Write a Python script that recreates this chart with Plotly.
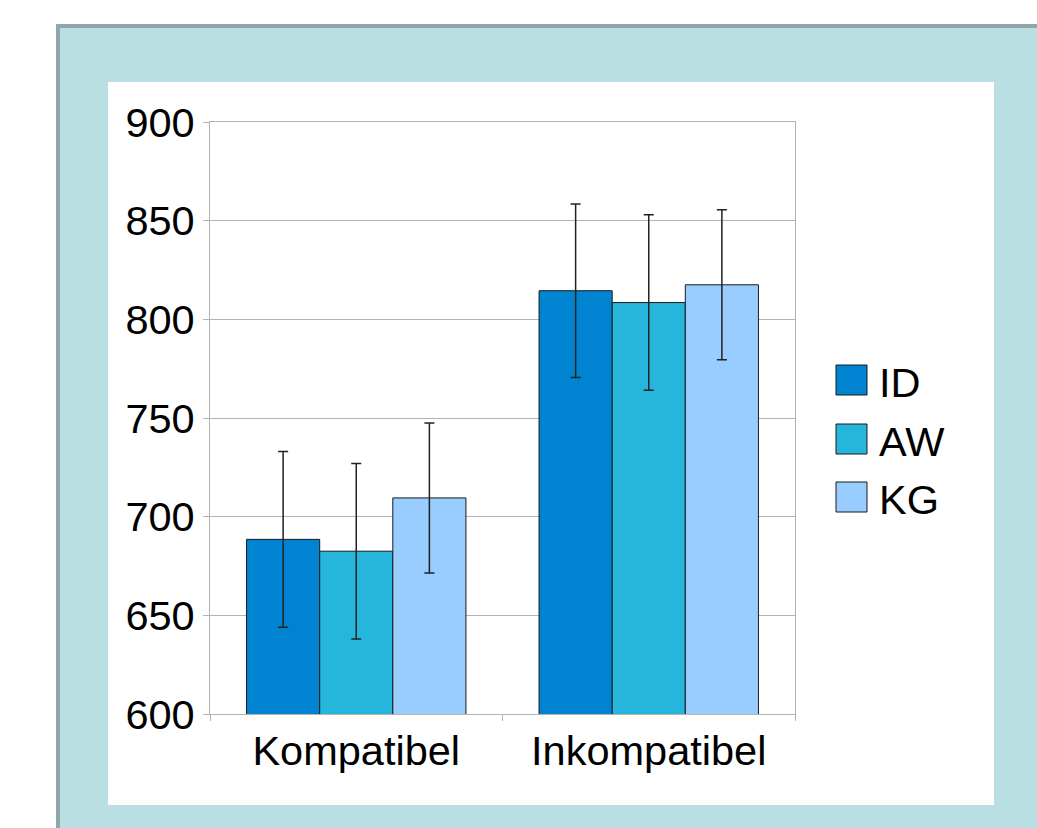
import plotly.graph_objects as go

categories = ["Kompatibel", "Inkompatibel"]
series_names = ["ID", "AW", "KG"]
id_values = [688.5, 814.5]
aw_values = [682.5, 808.5]
kg_values = [709.5, 817.5]
id_err = [44.5, 44.0]
aw_err = [44.5, 44.5]
kg_err = [38.0, 38.0]
colors = ["#0084d1", "#26b6dc", "#99ccff"]

W, H = 1037, 828
L, R, T, B = 210, 795, 122, 714


def px(x):
    return (x - L) / (R - L)


def py(y):
    return (B - y) / (B - T)


fig = go.Figure()
for name, vals, errs, col in zip(series_names, [id_values, aw_values, kg_values],
                                 [id_err, aw_err, kg_err], colors):
    fig.add_trace(go.Bar(
        name=name, x=categories, y=vals, base=0,
        marker=dict(color=col, line=dict(color="#1a1a1a", width=1)),
        error_y=dict(type="data", array=errs, visible=True, color="#222222",
                     thickness=1.5, width=5),
        showlegend=False,
    ))

shapes = [
    dict(type="rect", xref="paper", yref="paper", layer="below",
         x0=px(56), x1=px(1045), y0=py(24), y1=py(840),
         fillcolor="#8ea8a9", line=dict(width=0)),
    dict(type="rect", xref="paper", yref="paper", layer="below",
         x0=px(60), x1=px(1045), y0=py(28), y1=py(840),
         fillcolor="#badfe2", line=dict(width=0)),
    dict(type="rect", xref="paper", yref="paper", layer="below",
         x0=px(108), x1=px(994), y0=py(82), y1=py(805),
         fillcolor="white", line=dict(width=0)),
]
annotations = []
leg_y = [380, 439, 497]
for name, col, yc in zip(series_names, colors, leg_y):
    shapes.append(dict(type="rect", xref="paper", yref="paper",
                       x0=px(836), x1=px(867), y0=py(yc - 15), y1=py(yc + 15),
                       fillcolor=col, line=dict(color="#1a1a1a", width=1)))
    annotations.append(dict(text=name, xref="paper", yref="paper",
                            x=px(877), y=py(yc + 2), xanchor="left", yanchor="middle",
                            showarrow=False, font=dict(size=41.5, color="black")))

fig.update_layout(
    width=W, height=H,
    margin=dict(l=L, r=W - R, t=T, b=H - B),
    paper_bgcolor="white", plot_bgcolor="white",
    barmode="group", bargap=0.25, bargroupgap=0,
    font=dict(family="Liberation Sans, Arial, sans-serif", size=41.5, color="black"),
    shapes=shapes, annotations=annotations,
    showlegend=False,
)
fig.update_yaxes(range=[600, 900], dtick=50, showgrid=True, gridcolor="#b3b3b3",
                 gridwidth=1, showline=True, linecolor="#b3b3b3", linewidth=1,
                 mirror=True, ticks="outside", ticklen=6, tickcolor="#b3b3b3",
                 zeroline=False, tickfont=dict(size=41.5))
fig.update_xaxes(showline=True, linecolor="#b3b3b3", linewidth=1, mirror=True,
                 ticks="outside", ticklen=6, tickcolor="#b3b3b3",
                 tickson="boundaries", tickfont=dict(size=41.5))

fig.write_html("out.html",
               config={"displayModeBar": False},
               post_script="document.body.style.margin='0';"
                           "document.body.style.overflow='hidden';")
